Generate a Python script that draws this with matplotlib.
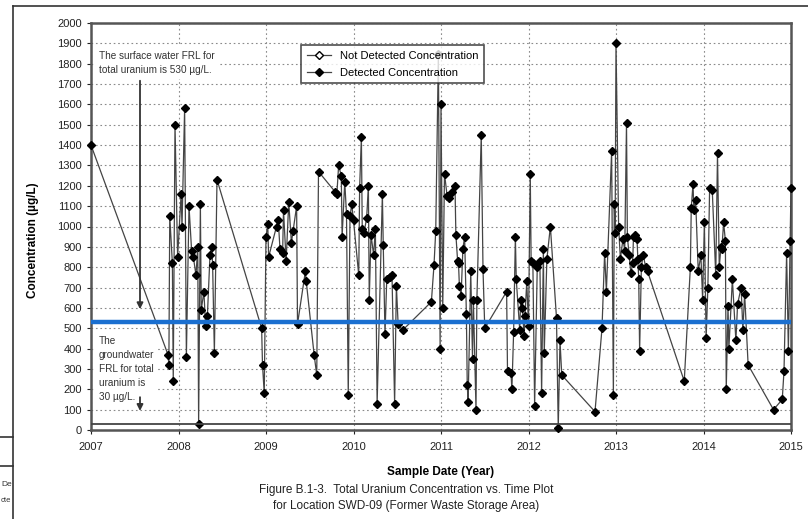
import matplotlib
matplotlib.use("Agg")
import matplotlib.pyplot as plt
from matplotlib.lines import Line2D

plt.rcParams['font.family'] = ['Liberation Sans Narrow', 'Liberation Sans', 'DejaVu Sans']

# sample dates (decimal year) and detected concentrations (ug/L)
dates = [
    2007.00, 2007.88, 2007.89, 2007.90, 2007.93, 2007.94, 2007.96, 2007.99,
    2008.03, 2008.04, 2008.07, 2008.09, 2008.12, 2008.15, 2008.17, 2008.20,
    2008.22, 2008.23, 2008.25, 2008.26, 2008.29, 2008.31, 2008.33, 2008.36,
    2008.38, 2008.39, 2008.41, 2008.44, 2008.95, 2008.96, 2008.98, 2009.00,
    2009.02, 2009.03, 2009.12, 2009.14, 2009.16, 2009.19, 2009.20, 2009.23,
    2009.26, 2009.29, 2009.31, 2009.35, 2009.36, 2009.45, 2009.46, 2009.55,
    2009.58, 2009.60, 2009.79, 2009.81, 2009.83, 2009.86, 2009.87, 2009.90,
    2009.92, 2009.94, 2009.96, 2009.98, 2010.00, 2010.06, 2010.07, 2010.09,
    2010.10, 2010.12, 2010.15, 2010.17, 2010.18, 2010.20, 2010.23, 2010.25,
    2010.27, 2010.33, 2010.34, 2010.36, 2010.38, 2010.42, 2010.44, 2010.47,
    2010.49, 2010.51, 2010.56, 2010.89, 2010.92, 2010.94, 2010.97, 2010.99,
    2011.00, 2011.02, 2011.04, 2011.07, 2011.09, 2011.12, 2011.16, 2011.17,
    2011.19, 2011.20, 2011.21, 2011.23, 2011.25, 2011.27, 2011.29, 2011.30,
    2011.31, 2011.34, 2011.36, 2011.37, 2011.40, 2011.41, 2011.46, 2011.48,
    2011.50, 2011.75, 2011.76, 2011.80, 2011.81, 2011.83, 2011.85, 2011.86,
    2011.90, 2011.91, 2011.93, 2011.95, 2011.96, 2011.98, 2012.00, 2012.02,
    2012.03, 2012.05, 2012.07, 2012.10, 2012.13, 2012.15, 2012.17, 2012.18,
    2012.21, 2012.25, 2012.32, 2012.34, 2012.36, 2012.38, 2012.76, 2012.84,
    2012.87, 2012.89, 2012.95, 2012.97, 2012.98, 2012.99, 2013.00, 2013.03,
    2013.05, 2013.08, 2013.10, 2013.12, 2013.13, 2013.15, 2013.17, 2013.19,
    2013.20, 2013.22, 2013.24, 2013.25, 2013.26, 2013.27, 2013.29, 2013.31,
    2013.34, 2013.36, 2013.78, 2013.85, 2013.86, 2013.88, 2013.89, 2013.91,
    2013.94, 2013.97, 2013.99, 2014.01, 2014.03, 2014.05, 2014.07, 2014.10,
    2014.14, 2014.16, 2014.18, 2014.20, 2014.21, 2014.23, 2014.25, 2014.26,
    2014.28, 2014.29, 2014.33, 2014.37, 2014.39, 2014.43, 2014.45, 2014.47,
    2014.51, 2014.80, 2014.90, 2014.92, 2014.95, 2014.97, 2014.99, 2015.00,
]
detected = [
    1400, 370, 320, 1050, 820, 240, 1500, 850,
    1160, 1000, 1580, 360, 1100, 880, 850, 760,
    900, 30, 1110, 590, 680, 510, 560, 860,
    900, 810, 380, 1230, 500, 320, 180, 950,
    1010, 850, 1000, 1030, 890, 870, 1080, 830,
    1120, 920, 980, 1100, 520, 780, 730, 370,
    270, 1270, 1170, 1160, 1300, 1250, 950, 1220,
    1060, 170, 1050, 1110, 1030, 760, 1190, 1440,
    990, 970, 1040, 1200, 640, 960, 860, 990,
    130, 1160, 910, 470, 740, 750, 760, 130,
    710, 520, 490, 630, 810, 980, 1850, 400,
    1600, 600, 1260, 1150, 1140, 1170, 1200, 960,
    830, 820, 710, 660, 890, 950, 570, 220,
    140, 780, 350, 640, 100, 640, 1450, 790,
    500, 680, 290, 280, 200, 480, 950, 740,
    490, 640, 600, 460, 560, 730, 510, 1260,
    830, 820, 120, 800, 830, 180, 890, 380,
    840, 1000, 550, 10, 440, 270, 90, 500,
    870, 680, 1370, 170, 1110, 970, 1900, 1000,
    840, 940, 880, 1510, 950, 860, 770, 820,
    950, 960, 940, 840, 740, 390, 800, 860,
    800, 780, 240, 800, 1090, 1210, 1080, 1130,
    780, 860, 640, 1020, 450, 700, 1190, 1180,
    760, 1360, 800, 900, 890, 1020, 930, 200,
    610, 400, 740, 440, 620, 700, 490, 670,
    320, 100, 150, 290, 870, 390, 930, 1190,
]
not_detected_dates = []
not_detected = []

years = list(range(2007, 2016))
surface_frl = 530
ground_frl = 30

W, H = 808, 519
fig = plt.figure(figsize=(W / 100, H / 100), dpi=100)
ax = fig.add_axes([91 / W, 1 - 430 / H, 700 / W, 407 / H])

ax.plot(dates, detected, color='#444444', lw=0.9, marker='D', ms=4.4,
        mfc='black', mec='black', zorder=3, clip_on=False)
ax.plot(not_detected_dates, not_detected, color='#444444', lw=0.9, marker='D',
        ms=4.4, mfc='white', mec='black', zorder=3)

ax.axhline(surface_frl, color='#1a6fd0', lw=3.2, zorder=4)
ax.axhline(ground_frl, color='#444444', lw=1.3, zorder=4)

ax.set_xlim(years[0], years[-1])
ax.set_ylim(0, 2000)
ax.set_xticks(years)
ax.set_xticklabels([str(y) for y in years])
ax.set_yticks(range(0, 2001, 100))
ax.tick_params(labelsize=8, colors='#222222', length=3, width=0.8)
ax.tick_params(axis='x', pad=6)
ax.grid(True, color='#8a8a8a', lw=0.8, linestyle=(0, (1.5, 2.5)))
ax.set_axisbelow(True)
for s in ax.spines.values():
    s.set_color('#555555')
    s.set_linewidth(1.8)

ax.set_xlabel('Sample Date (Year)', fontsize=8.5, fontweight='bold', labelpad=10)
fig.text(33 / W, 1 - 240 / H, 'Concentration (\u00b5g/L)', rotation=90,
         ha='center', va='center', fontsize=8.5, fontweight='bold')

# FRL notes
ax.text(2007.09, 1805, 'The surface water FRL for\ntotal uranium is 530 \u00b5g/L.',
        fontsize=7.2, color='#333333', va='center', ha='left', linespacing=1.5,
        bbox=dict(facecolor='white', edgecolor='none', pad=3), zorder=5)
ax.annotate('', xy=(2007.56, 580), xytext=(2007.56, 1730),
            arrowprops=dict(arrowstyle='-|>', color='#333333', lw=1.3,
                            mutation_scale=9), zorder=6)
ax.text(2007.09, 300, 'The\ngroundwater\nFRL for total\nuranium is\n30 \u00b5g/L.',
        fontsize=7.2, color='#333333', va='center', ha='left', linespacing=1.5,
        bbox=dict(facecolor='white', edgecolor='none', pad=3), zorder=5)
ax.annotate('', xy=(2007.56, 80), xytext=(2007.56, 175),
            arrowprops=dict(arrowstyle='-|>', color='#333333', lw=1.3,
                            mutation_scale=9), zorder=6)

handles = [
    Line2D([], [], color='#444444', lw=0.9, marker='D', ms=4.4, mfc='white', mec='black'),
    Line2D([], [], color='#444444', lw=0.9, marker='D', ms=4.4, mfc='black', mec='black'),
]
leg = ax.legend(handles, ['Not Detected Concentration', 'Detected Concentration'],
                loc='upper left', bbox_to_anchor=(0.30, 0.945), fontsize=8,
                frameon=True, fancybox=False, borderaxespad=0, handlelength=2.2,
                borderpad=0.5, labelspacing=0.6)
leg.get_frame().set_edgecolor('#222222')
leg.get_frame().set_linewidth(1.2)
leg.set_zorder(7)

fig.text(406 / W, 1 - 490 / H, 'Figure B.1-3.  Total Uranium Concentration vs. Time Plot',
         ha='center', va='center', fontsize=8.5, color='#222222')
fig.text(406 / W, 1 - 506 / H, 'for Location SWD-09 (Former Waste Storage Area)',
         ha='center', va='center', fontsize=8.5, color='#222222')

# page frame and table fragment at the left edge
frame = dict(color='#333333', lw=1.2, transform=fig.transFigure)
fig.add_artist(Line2D([13 / W, 1], [1 - 6 / H, 1 - 6 / H], **frame))
fig.add_artist(Line2D([13 / W, 13 / W], [1 - 6 / H, 0], **frame))
fig.add_artist(Line2D([0, 13 / W], [1 - 437 / H, 1 - 437 / H], **frame))
fig.add_artist(Line2D([0, 13 / W], [1 - 466 / H, 1 - 466 / H], **frame))
fig.text(1 / W, 1 - 484 / H, 'De', fontsize=6, va='center', ha='left', color='#333333')
fig.text(1 / W, 1 - 501 / H, 'cte', fontsize=5.5, va='center', ha='left', color='#333333')

fig.savefig('out.png', dpi=100)
